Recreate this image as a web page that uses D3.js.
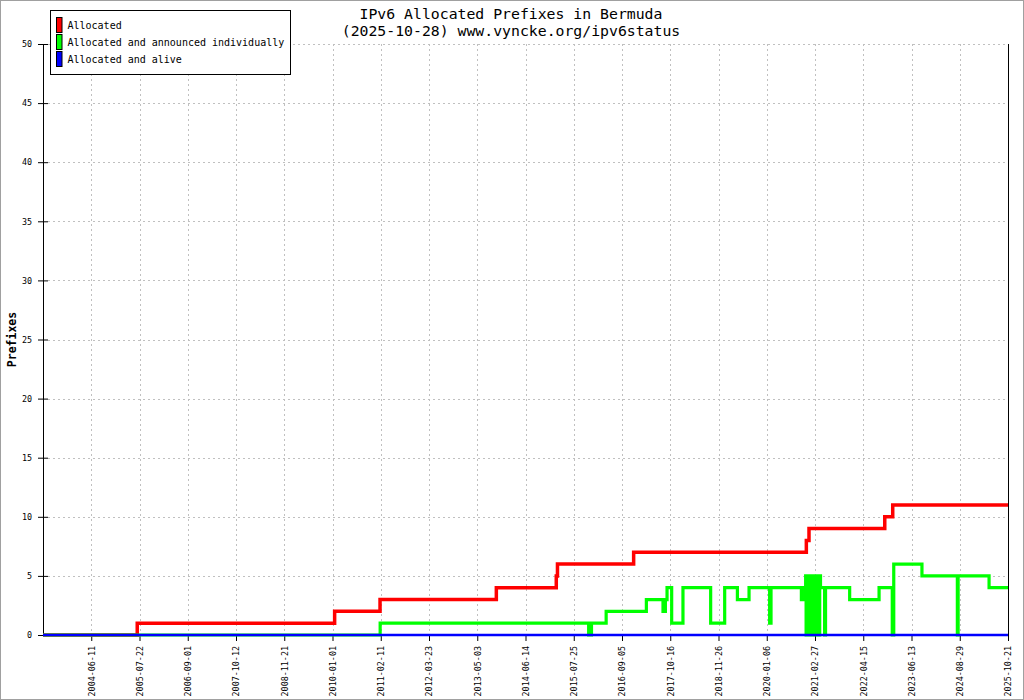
<!DOCTYPE html>
<html>
  <head>
    <meta charset="UTF-8" />
    <script src="https://cdnjs.cloudflare.com/ajax/libs/d3/7.8.5/d3.min.js"></script>
    <style>
      body { margin: 0; background: #fff; }
      text { font-family: "DejaVu Sans Mono", "Liberation Mono", monospace; fill: #000; }
      .grid line { stroke: #c0c0c0; stroke-dasharray: 2, 3; }
      .axis path, .axis line { stroke: #000; }
    </style>
  </head>
  <body>
    <svg id="chart" width="1024" height="700"></svg>
    <script>
      // x axis labels (the chart is sample based, so ticks are evenly spaced)
      const tickDates = [
        "2004-06-11", "2005-07-22", "2006-09-01", "2007-10-12", "2008-11-21",
        "2010-01-01", "2011-02-11", "2012-03-23", "2013-05-03", "2014-06-14",
        "2015-07-25", "2016-09-05", "2017-10-16", "2018-11-26", "2020-01-06",
        "2021-02-27", "2022-04-15", "2023-06-13", "2024-08-29", "2025-10-21"
      ];
      const startDate = "2003-05-02";
      const yTicks = [0, 5, 10, 15, 20, 25, 30, 35, 40, 45, 50];

      // [date, prefixes] change points
      const allocated = [
        ["2003-05-02", 0], ["2005-07-03", 1], ["2010-01-19", 2], ["2011-02-05", 3],
        ["2013-10-11", 4], ["2015-02-28", 5], ["2015-03-10", 6], ["2016-12-12", 7],
        ["2020-12-14", 8], ["2021-01-06", 9], ["2022-10-21", 10], ["2022-12-30", 11],
        ["2025-10-21", 11]
      ];
      const announced = [
        ["2003-05-02", 0], ["2011-02-06", 1], ["2015-11-28", 0], ["2015-12-22", 1],
        ["2016-04-24", 2], ["2017-03-29", 3], ["2017-08-16", 2], ["2017-09-05", 3],
        ["2017-09-19", 4], ["2017-10-28", 1], ["2018-01-31", 4], ["2018-09-21", 1],
        ["2019-01-17", 4], ["2019-05-04", 3], ["2019-08-10", 4], ["2020-01-31", 1],
        ["2020-02-12", 4], ["2020-11-01", 3], ["2020-11-29", 4],
        ["2020-12-08", 5], ["2020-12-12", 0], ["2020-12-16", 5], ["2020-12-24", 0],
        ["2020-12-28", 5], ["2021-01-05", 0], ["2021-01-10", 5], ["2021-01-20", 0],
        ["2021-01-25", 5], ["2021-02-12", 0], ["2021-02-16", 5], ["2021-02-24", 0],
        ["2021-03-01", 5], ["2021-03-08", 0], ["2021-03-12", 5], ["2021-03-20", 0],
        ["2021-03-25", 5], ["2021-04-02", 0], ["2021-04-08", 5], ["2021-04-15", 4],
        ["2021-05-20", 0], ["2021-05-28", 4], ["2021-12-20", 3], ["2022-09-01", 4],
        ["2022-12-26", 0], ["2023-01-08", 6], ["2023-09-17", 5], ["2024-08-07", 0],
        ["2024-08-14", 5], ["2025-05-10", 4], ["2025-10-21", 4]
      ];
      const alive = [["2003-05-02", 0], ["2025-10-21", 0]];

      const seriesNames = ["Allocated", "Allocated and announced individually", "Allocated and alive"];
      const seriesColors = ["#ff0000", "#00ff00", "#0000ff"];

      const parse = d3.timeParse("%Y-%m-%d");
      const plotLeft = 43, plotRight = 1008, plotTop = 44, plotBottom = 635;
      const svg = d3.select("#chart");

      const step = (plotRight - plotLeft) / tickDates.length;
      const xScale = d3.scaleTime()
        .domain([startDate].concat(tickDates).map(parse))
        .range(d3.range(tickDates.length + 1).map(i => plotLeft + i * step));
      const yScale = d3.scaleLinear().domain([0, 50]).range([plotBottom, plotTop]);

      // frame
      svg.append("rect").attr("x", 0.5).attr("y", 0.5).attr("width", 1023).attr("height", 699)
        .attr("fill", "#fff").attr("stroke", "#a0a0a0");

      // grid
      let grid = svg.append("g").attr("class", "grid");
      grid.selectAll(".gy").data(yTicks.slice(1)).enter().append("line")
        .attr("x1", plotLeft + 5).attr("x2", plotRight)
        .attr("y1", d => Math.round(yScale(d)) + 0.5).attr("y2", d => Math.round(yScale(d)) + 0.5);
      grid.selectAll(".gx").data(tickDates.map(parse)).enter().append("line")
        .attr("x1", d => Math.round(xScale(d)) + 0.5).attr("x2", d => Math.round(xScale(d)) + 0.5)
        .attr("y1", plotTop).attr("y2", plotBottom);

      // axes
      let xAxis = svg.append("g").attr("class", "axis")
        .attr("transform", `translate(0,${plotBottom})`)
        .call(d3.axisBottom(xScale).tickValues(tickDates.map(parse))
          .tickFormat(d3.timeFormat("%Y-%m-%d")).tickSize(6).tickSizeOuter(0));
      xAxis.select(".domain").remove();
      xAxis.selectAll("text")
        .attr("font-size", 8.4).attr("font-family", "DejaVu Sans Mono")
        .attr("text-anchor", "end")
        .attr("transform", "translate(0,11) rotate(-90)")
        .attr("x", 0).attr("y", 0).attr("dy", "0.35em");

      let yAxis = svg.append("g").attr("class", "axis")
        .attr("transform", `translate(${plotLeft},0)`)
        .call(d3.axisLeft(yScale).tickValues(yTicks).tickSize(5).tickSizeOuter(0));
      yAxis.selectAll(".tick line").attr("x1", -5).attr("x2", 5);
      yAxis.selectAll("text").attr("font-size", 8.4).attr("font-family", "DejaVu Sans Mono")
        .attr("x", -11);

      svg.append("line").attr("x1", plotRight + 0.5).attr("x2", plotRight + 0.5)
        .attr("y1", plotTop).attr("y2", plotBottom).attr("stroke", "#000");

      // series
      const line = d3.line()
        .curve(d3.curveStepAfter)
        .x(d => xScale(parse(d[0])))
        .y(d => yScale(d[1]));
      const series = [allocated, announced, alive];
      const widths = [3.5, 3.2, 2.5];
      svg.selectAll(".series").data(series).enter().append("path")
        .attr("fill", "none")
        .attr("stroke", (d, i) => seriesColors[i])
        .attr("stroke-width", (d, i) => widths[i])
        .attr("d", d => line(d));

      // title
      svg.append("text").attr("x", 511).attr("y", 18.5).attr("text-anchor", "middle")
        .attr("font-size", 14.8).text("IPv6 Allocated Prefixes in Bermuda");
      svg.append("text").attr("x", 511).attr("y", 36).attr("text-anchor", "middle")
        .attr("font-size", 14.8).text("(2025-10-28) www.vyncke.org/ipv6status");

      // y label
      svg.append("text").attr("transform", `translate(16,${(plotTop + plotBottom) / 2}) rotate(-90)`)
        .attr("text-anchor", "middle").attr("font-size", 11.5).attr("font-weight", "bold")
        .text("Prefixes");

      // legend
      let legend = svg.append("g");
      legend.append("rect").attr("x", 50.5).attr("y", 10.5).attr("width", 240).attr("height", 64)
        .attr("fill", "#fff").attr("stroke", "#000");
      let items = legend.selectAll(".item").data(seriesNames).enter().append("g")
        .attr("transform", (d, i) => `translate(0,${i * 17})`);
      items.append("rect").attr("x", 56.5).attr("y", 17.5).attr("width", 5.5).attr("height", 15)
        .attr("fill", (d, i) => seriesColors[i]).attr("stroke", "#000");
      items.append("text").attr("x", 67.5).attr("y", 29.3).attr("font-size", 10).text(d => d);
    </script>
  </body>
</html>
